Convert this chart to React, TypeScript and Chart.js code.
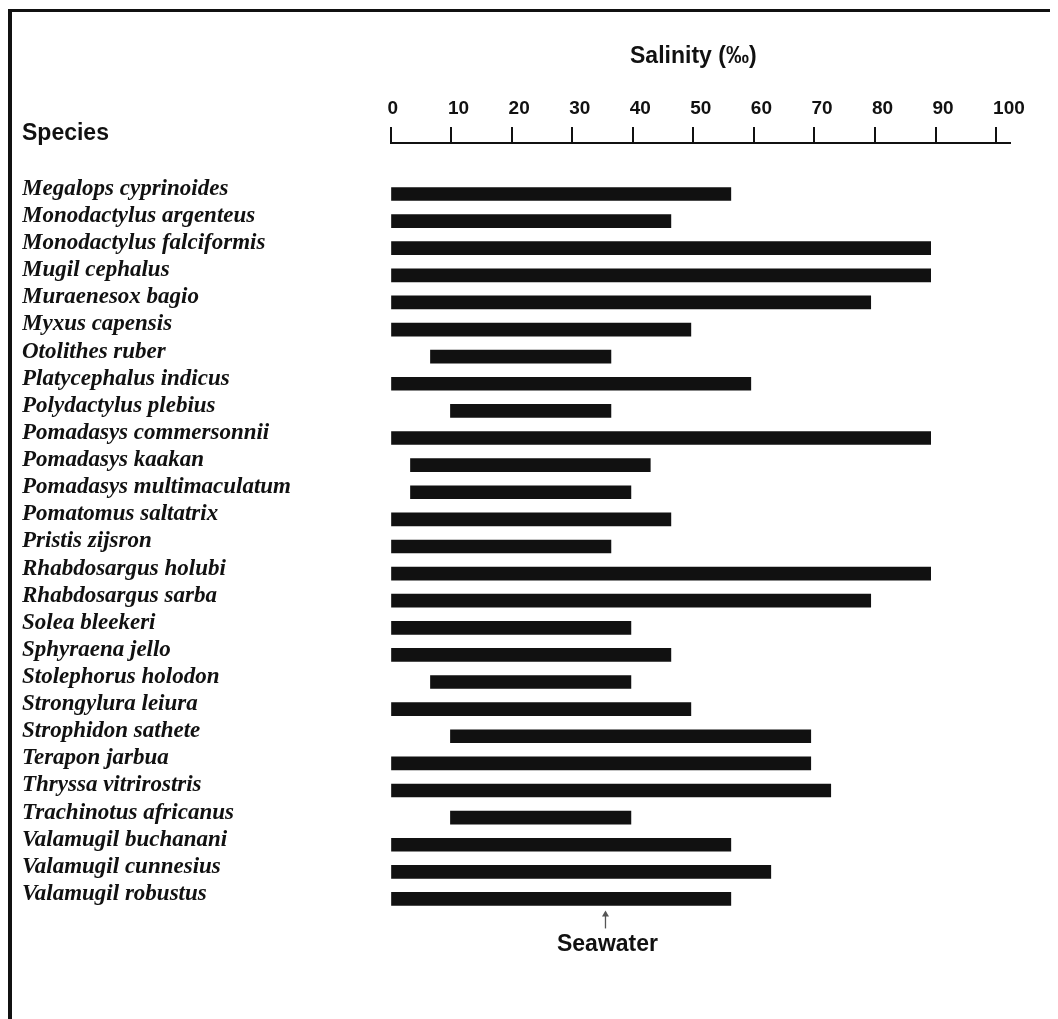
import React, { useEffect, useRef } from 'react';
import { Chart, registerables } from 'chart.js';

Chart.register(...registerables);

const species = [
  'Megalops cyprinoides',
  'Monodactylus argenteus',
  'Monodactylus falciformis',
  'Mugil cephalus',
  'Muraenesox bagio',
  'Myxus capensis',
  'Otolithes ruber',
  'Platycephalus indicus',
  'Polydactylus plebius',
  'Pomadasys commersonnii',
  'Pomadasys kaakan',
  'Pomadasys multimaculatum',
  'Pomatomus saltatrix',
  'Pristis zijsron',
  'Rhabdosargus holubi',
  'Rhabdosargus sarba',
  'Solea bleekeri',
  'Sphyraena jello',
  'Stolephorus holodon',
  'Strongylura leiura',
  'Strophidon sathete',
  'Terapon jarbua',
  'Thryssa vitrirostris',
  'Trachinotus africanus',
  'Valamugil buchanani',
  'Valamugil cunnesius',
  'Valamugil robustus',
];

const rangeStart = [0, 0, 0, 0, 0, 0, 6.6, 0, 9.9, 0, 3.3, 3.3, 0, 0, 0, 0, 0, 0, 6.6, 0, 9.9, 0, 0, 9.9, 0, 0, 0];
const rangeEnd = [56.2, 46.3, 89.2, 89.2, 79.3, 49.6, 36.4, 59.5, 36.4, 89.2, 42.9, 39.7, 46.3, 36.4, 89.2, 79.3, 39.7, 46.3, 39.7, 49.6, 69.4, 69.4, 72.7, 39.7, 56.2, 62.8, 56.2];

const axisTitle = 'Salinity (‰)';
const rowHeader = 'Species';
const seawaterLabel = 'Seawater';
const seawaterValue = 35.5;
const salinityMin = 0;
const salinityMax = 102.3;
const salinityStep = 10;

const SANS = '"Liberation Sans", Arial, Helvetica, sans-serif';
const SERIF = '"Liberation Serif", "Times New Roman", Times, serif';
const INK = '#111111';

export default function App() {
  const ref = useRef<HTMLCanvasElement>(null);

  useEffect(() => {
    const canvas = ref.current;
    if (!canvas) return;

    const annot = {
      id: 'annot',
      beforeDraw(chart: any) {
        const ctx = chart.ctx;
        ctx.save();
        ctx.fillStyle = INK;
        ctx.fillRect(8, 9, 4, 1010);
        ctx.fillRect(8, 9, 1042, 3);
        ctx.restore();
      },
      afterDraw(chart: any) {
        const ctx = chart.ctx;
        const xs = chart.scales.x;
        const ys = chart.scales.y;
        ctx.save();
        ctx.fillStyle = INK;
        ctx.font = `bold 23px ${SANS}`;
        ctx.textBaseline = 'alphabetic';
        ctx.textAlign = 'center';
        ctx.fillText(axisTitle, xs.getPixelForValue(50), 63);
        ctx.textAlign = 'left';
        ctx.fillText(rowHeader, 22, 140);

        const sx = xs.getPixelForValue(seawaterValue);
        const lastBar = ys.getPixelForValue(species.length - 1) + 6.5;
        const tip = lastBar + 5;
        const tail = lastBar + 23;
        ctx.strokeStyle = '#555';
        ctx.fillStyle = '#555';
        ctx.lineWidth = 1.3;
        ctx.beginPath();
        ctx.moveTo(sx, tip + 2);
        ctx.lineTo(sx, tail);
        ctx.stroke();
        ctx.beginPath();
        ctx.moveTo(sx, tip);
        ctx.lineTo(sx - 3.5, tip + 6);
        ctx.lineTo(sx + 3.5, tip + 6);
        ctx.closePath();
        ctx.fill();

        ctx.fillStyle = INK;
        ctx.textAlign = 'center';
        ctx.fillText(seawaterLabel, sx + 2, 951);
        ctx.restore();
      },
    };

    const chart = new Chart(canvas, {
      type: 'bar',
      data: {
        datasets: [
          {
            data: species.map((_, i) => ({ x: [rangeStart[i], rangeEnd[i]], y: i })) as any,
            backgroundColor: INK,
            borderWidth: 0,
            barThickness: 13,
          },
        ],
      },
      options: {
        indexAxis: 'y',
        responsive: false,
        animation: false,
        devicePixelRatio: 1,
        layout: { padding: { left: 22, right: 48, top: 0, bottom: 106.5 } },
        plugins: {
          legend: { display: false },
          tooltip: { enabled: false },
          title: { display: false },
        },
        scales: {
          x: {
            type: 'linear',
            position: 'top',
            min: salinityMin,
            max: salinityMax,
            offset: false,
            ticks: {
              stepSize: salinityStep,
              includeBounds: false,
              align: 'start',
              labelOffset: -3,
              padding: 7,
              autoSkip: false,
              maxRotation: 0,
              color: INK,
              font: { family: SANS, size: 19, weight: 'bold' },
            },
            grid: {
              drawOnChartArea: false,
              drawTicks: true,
              tickLength: 16,
              color: INK,
              lineWidth: 2,
              offset: false,
            },
            border: { display: true, color: INK, width: 2 },
            afterFit(s: any) {
              s.height = 143;
              s.paddingLeft = 0;
              s.paddingRight = 0;
            },
          },
          y: {
            type: 'linear',
            reverse: true,
            min: -1.88,
            max: 26.5,
            offset: false,
            ticks: {
              stepSize: 1,
              includeBounds: false,
              autoSkip: false,
              maxTicksLimit: 200,
              crossAlign: 'far',
              padding: 0,
              labelOffset: -5,
              color: INK,
              font: { family: SERIF, size: 23, style: 'italic', weight: 'bold' },
              callback: (v: any) => (Number.isInteger(v) && species[v] ? species[v] : ''),
            },
            grid: { display: false, offset: false },
            border: { display: false },
            afterFit(s: any) {
              s.width = 368.5;
              s.paddingTop = 0;
              s.paddingBottom = 0;
            },
          },
        },
      } as any,
      plugins: [annot],
    });

    return () => chart.destroy();
  }, []);

  return (
    <div style={{ position: 'fixed', left: 0, top: 0, width: 1058, height: 1019, background: '#fff' }}>
      <canvas ref={ref} width={1058} height={1019} style={{ display: 'block' }} />
    </div>
  );
}
